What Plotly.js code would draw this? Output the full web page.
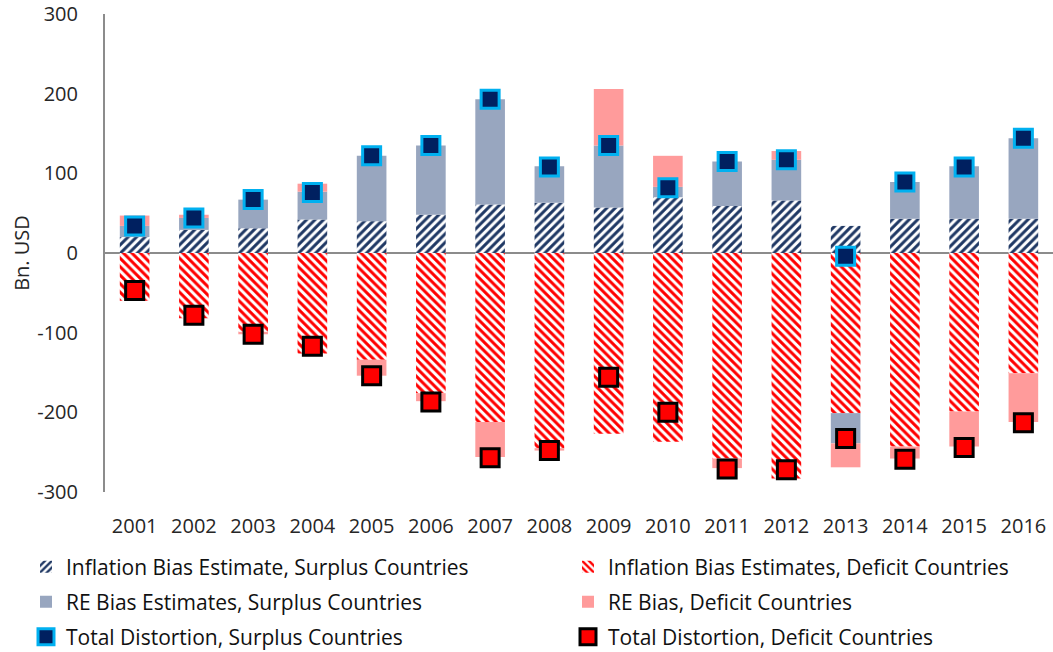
<!DOCTYPE html>
<html>
<head>
<meta charset="utf-8">
<script src="https://cdn.plot.ly/plotly-3.0.1.min.js"></script>
<style>html,body{margin:0;padding:0;background:#fff;}#chart{width:1053px;height:652px;}</style>
</head>
<body>
<div id="chart"></div>
<script>
var years = ['2001','2002','2003','2004','2005','2006','2007','2008','2009','2010','2011','2012','2013','2014','2015','2016'];
var inflSurplus = [20, 29, 31, 42, 40, 48, 61, 63, 57, 70, 59, 66, 34, 43, 43, 43];
var reSurplus   = [14, 15, 36, 35, 82, 87, 132, 46, 78, 13, 56, 51, -38, 46, 66, 101];
var inflDeficit = [-60, -82, -99, -126, -134, -176, -212, -245, -227, -237, -258, -283, -201, -243, -199, -151];
var reDeficit   = [13, 4, -3, 10, -20, -10, -44, -3, 71, 39, -12, 11, -30, -15, -44, -61];
var totSurplus  = [34, 44, 67, 76, 122, 135, 193, 108, 135, 82, 115, 117, -4, 89, 108, 144];
var totDeficit  = [-47, -78, -102, -117, -154, -187, -257, -248, -156, -200, -271, -272, -233, -259, -244, -213];
var yTicks = [-300, -200, -100, 0, 100, 200, 300];
var yTickText = ['-300', '-200', '-100', '0', '100', '200', '300'];

var FONT = 'Open Sans, Noto Sans, sans-serif';
var TXT = '#262626';
var traces = [
  {type:'bar', name:'Inflation Bias Estimate, Surplus Countries', x:years, y:inflSurplus, legend:'legend',
   marker:{color:'#ffffff', line:{width:0}, pattern:{shape:'/', fgcolor:'#1F3864', bgcolor:'#ffffff', size:6, solidity:0.5}}},
  {type:'bar', name:'Inflation Bias Estimates, Deficit Countries', x:years, y:inflDeficit, legend:'legend2',
   marker:{color:'#ffffff', line:{width:0}, pattern:{shape:'\\', fgcolor:'#FF0000', bgcolor:'#ffffff', size:6, solidity:0.5}}},
  {type:'bar', name:'RE Bias Estimates, Surplus Countries', x:years, y:reSurplus, legend:'legend3',
   marker:{color:'#98A6BF', line:{width:0}}},
  {type:'bar', name:'RE Bias, Deficit Countries', x:years, y:reDeficit, legend:'legend4',
   marker:{color:'#FF9B9B', line:{width:0}}},
  {type:'scatter', mode:'markers', name:'Total Distortion, Surplus Countries', x:years, y:totSurplus, legend:'legend5',
   marker:{symbol:'square', size:18, color:'#002060', line:{color:'#00B0F0', width:3}}},
  {type:'scatter', mode:'markers', name:'Total Distortion, Deficit Countries', x:years, y:totDeficit, legend:'legend6',
   marker:{symbol:'square', size:18, color:'#FF0000', line:{color:'#000000', width:3}}}
];

function leg(xpx, ypx){
  return {orientation:'h', xref:'container', yref:'container', x:xpx/1053, xanchor:'left', y:1-ypx/652, yanchor:'middle',
          font:{family:FONT, size:21, color:'#111111'}, bgcolor:'rgba(0,0,0,0)'};
}

var layout = {
  width:1053, height:652,
  margin:{l:105, r:0, t:14, b:160},
  paper_bgcolor:'#ffffff', plot_bgcolor:'#ffffff',
  barmode:'relative', bargap:0.5,
  font:{family:FONT, size:20, color:TXT},
  showlegend:true,
  legend:leg(26, 567), legend2:leg(568, 567),
  legend3:leg(26, 602), legend4:leg(568, 602),
  legend5:leg(26, 637), legend6:leg(568, 637),
  xaxis:{type:'category', range:[-0.5, 15.5], showgrid:false, zeroline:false, showline:false,
         ticks:'outside', ticklen:16, tickcolor:'rgba(0,0,0,0)',
         tickfont:{family:FONT, size:20, color:TXT}},
  yaxis:{range:[-300,300], tickvals:yTicks, ticktext:yTickText, showgrid:false, showline:true, linecolor:'#8c8c8c', linewidth:2,
         zeroline:true, zerolinecolor:'#8c8c8c', zerolinewidth:2,
         ticks:'outside', ticklen:21, tickcolor:'rgba(0,0,0,0)',
         tickfont:{family:FONT, size:20, color:TXT},
         title:{text:'Bn. USD', font:{family:FONT, size:20, color:TXT}, standoff:2}}
};

Plotly.newPlot('chart', traces, layout, {displayModeBar:false, staticPlot:true});
</script>
</body>
</html>
